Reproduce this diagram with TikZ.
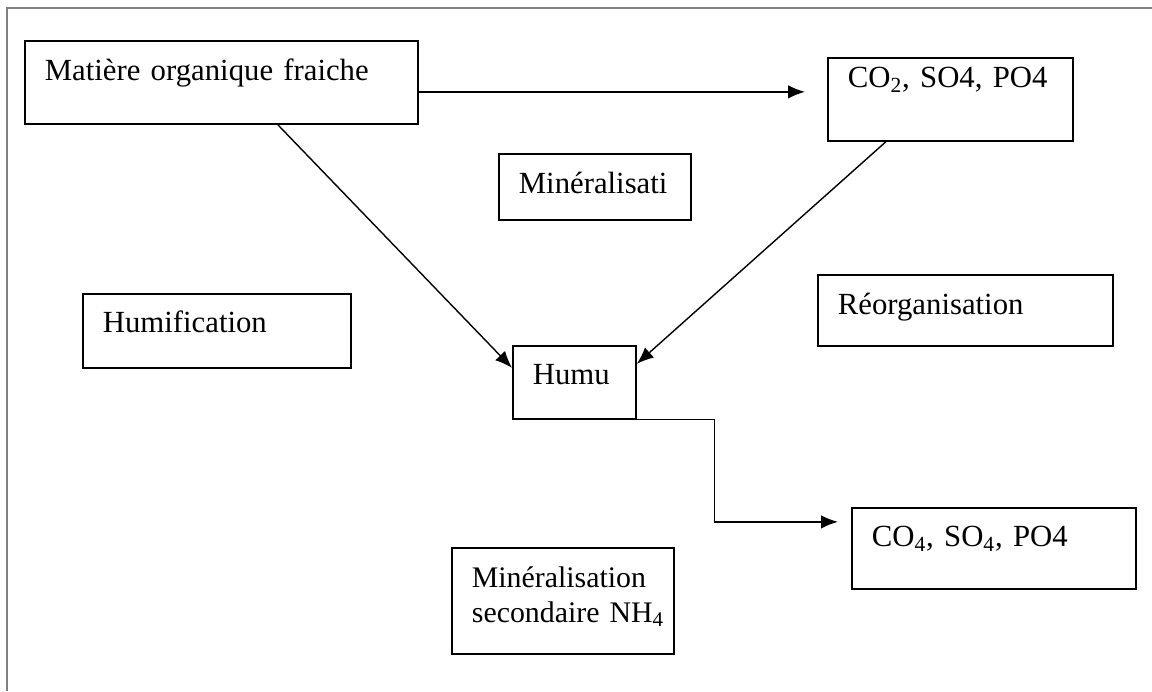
\documentclass[tikz,border=0pt]{standalone}
\usepackage{fontspec}
\setmainfont{Liberation Serif}
\usetikzlibrary{arrows.meta}
\begin{document}
\begin{tikzpicture}[x=0.02cm, y=-0.02cm,
  box/.style={draw, line width=1pt, anchor=north west, inner sep=0pt, inner xsep=0.4cm, align=left, text height=0.8cm, font=\fontsize{17.5}{19.5}\selectfont},
  arr/.style={line width=0.8pt, -{Latex[length=0.34cm, width=0.27cm]}}]
\useasboundingbox (0,0) rectangle (1152,691);
\draw[gray, line width=0.6pt] (1152,8) -- (7,8) -- (7,691);
\node[box, text width=7.06cm, text depth=0.86cm] (mof) at (24,40){Matière organique fraiche};
\node[box, text width=4.10cm, text height=0.6cm, text depth=1.06cm] (co2) at (827,57){CO\textsubscript{2}, SO4, PO4};
\node[box, text width=3.04cm, text depth=0.52cm] (mine) at (498,153){Minéralisati};
\node[box, text width=4.56cm, text height=0.78cm, text depth=0.70cm] (humi) at (82,293){Humification};
\node[box, text width=5.10cm, text depth=0.62cm] (reorg) at (817,274){Réorganisation};
\node[box, text width=1.66cm, text height=0.78cm, text depth=0.68cm] (humu) at (512,345){Humu};
\node[box, text width=4.88cm, text height=0.78cm, text depth=0.84cm] (co4) at (851,507){CO\textsubscript{4}, SO\textsubscript{4}, PO4};
\node[box, text width=3.64cm, text depth=1.32cm, font=\fontsize{17}{19.5}\selectfont] (minsec) at (451,547){Minéralisation\\secondaire~NH\textsubscript{4}};
\draw[arr, shorten >=0.44cm] ([yshift=-0.19cm]mof.east) -- ([yshift=-0.19cm]mof.east -| co2.west);
\draw[arr] ([xshift=1.13cm]mof.south) -- ([yshift=0.29cm]humu.west);
\draw[arr] ([xshift=-1.29cm]co2.south) -- ([yshift=0.37cm]humu.east);
\draw[arr, shorten >=0.26cm] (humu.south east) -- ++(78,0) |- ([yshift=0.53cm]co4.west);
\end{tikzpicture}
\end{document}
